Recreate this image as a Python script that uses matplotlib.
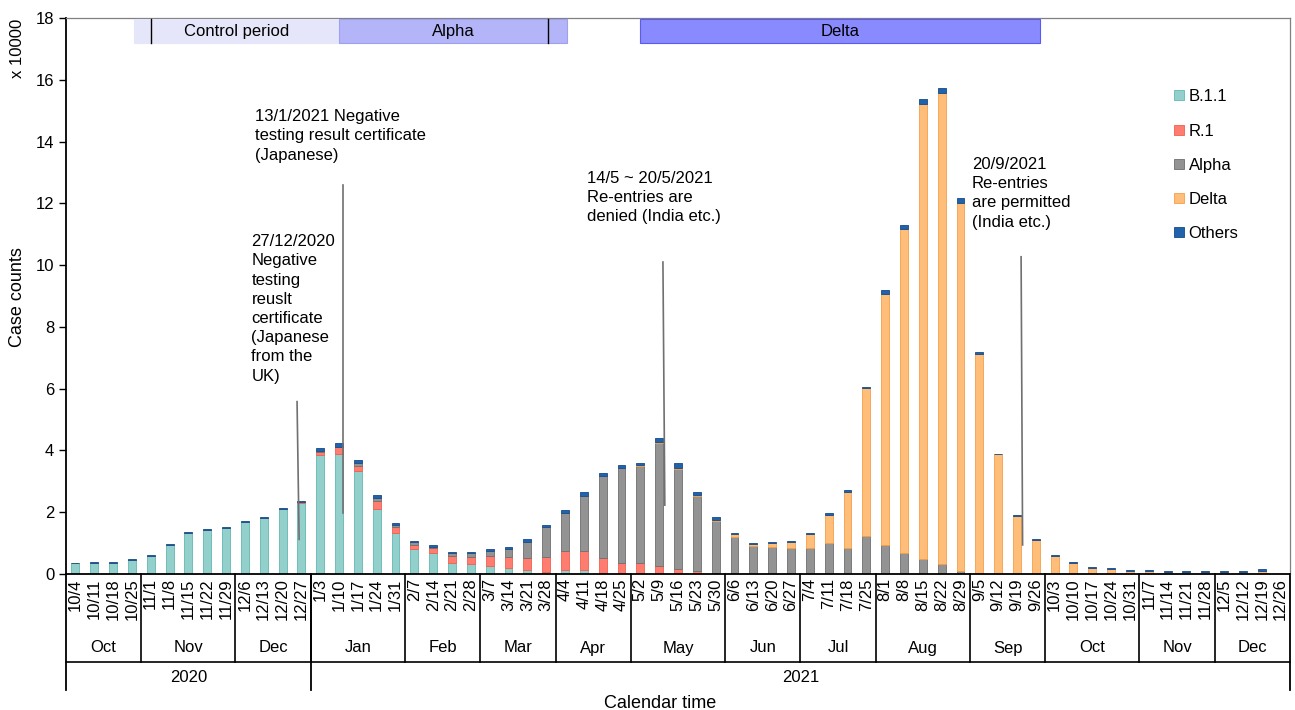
import numpy as np
import matplotlib
matplotlib.use('Agg')
import matplotlib.pyplot as plt
from matplotlib.patches import Rectangle

plt.rcParams['font.family'] = ['Liberation Sans', 'DejaVu Sans']

# weekly case counts (x 10000), stacked by lineage
weeks = ['10/4', '10/11', '10/18', '10/25',
         '11/1', '11/8', '11/15', '11/22', '11/29',
         '12/6', '12/13', '12/20', '12/27',
         '1/3', '1/10', '1/17', '1/24', '1/31',
         '2/7', '2/14', '2/21', '2/28',
         '3/7', '3/14', '3/21', '3/28',
         '4/4', '4/11', '4/18', '4/25',
         '5/2', '5/9', '5/16', '5/23', '5/30',
         '6/6', '6/13', '6/20', '6/27',
         '7/4', '7/11', '7/18', '7/25',
         '8/1', '8/8', '8/15', '8/22', '8/29',
         '9/5', '9/12', '9/19', '9/26',
         '10/3', '10/10', '10/17', '10/24', '10/31',
         '11/7', '11/14', '11/21', '11/28',
         '12/5', '12/12', '12/19', '12/26']

b11 = [0.34, 0.36, 0.37, 0.45,
       0.58, 0.93, 1.33, 1.42, 1.49,
       1.69, 1.80, 2.09, 2.29,
       3.85, 3.88, 3.34, 2.09, 1.34,
       0.82, 0.67, 0.37, 0.31,
       0.26, 0.20, 0.14, 0.05,
       0.12, 0.13, 0.03, 0.01,
       0, 0, 0, 0, 0,
       0, 0, 0, 0,
       0, 0, 0, 0,
       0, 0, 0, 0, 0,
       0, 0, 0, 0,
       0, 0, 0, 0, 0,
       0, 0, 0, 0,
       0, 0, 0, 0]
r1 = [0, 0, 0, 0,
      0, 0, 0, 0, 0.01,
      0, 0.02, 0.02, 0.03,
      0.11, 0.22, 0.17, 0.26, 0.19,
      0.12, 0.16, 0.21, 0.25,
      0.33, 0.34, 0.38, 0.50,
      0.63, 0.60, 0.50, 0.36,
      0.36, 0.27, 0.17, 0.10, 0.03,
      0, 0, 0, 0,
      0, 0, 0, 0,
      0, 0, 0, 0, 0,
      0, 0, 0, 0,
      0, 0, 0, 0, 0,
      0, 0, 0, 0,
      0, 0, 0, 0]
alpha = [0, 0, 0, 0,
         0, 0, 0, 0, 0,
         0, 0, 0, 0,
         0.02, 0.02, 0.08, 0.10, 0.06,
         0.09, 0.05, 0.09, 0.11,
         0.16, 0.27, 0.52, 0.97,
         1.24, 1.81, 2.64, 3.07,
         3.15, 3.96, 3.22, 2.42, 1.68,
         1.21, 0.90, 0.88, 0.84,
         0.83, 1.01, 0.83, 1.23,
         0.94, 0.68, 0.50, 0.31, 0.10,
         0.02, 0, 0, 0,
         0, 0, 0, 0, 0,
         0, 0, 0, 0,
         0, 0, 0, 0]
delta = [0, 0, 0, 0,
         0, 0, 0, 0, 0,
         0, 0, 0, 0,
         0, 0, 0, 0, 0,
         0, 0, 0, 0,
         0, 0, 0, 0,
         0, 0, 0, 0,
         0.01, 0.05, 0.05, 0.05, 0.05,
         0.07, 0.07, 0.12, 0.21,
         0.45, 0.91, 1.83, 4.78,
         8.12, 10.49, 14.71, 15.27, 11.90,
         7.10, 3.87, 1.88, 1.11,
         0.59, 0.37, 0.21, 0.16, 0.11,
         0.09, 0.07, 0.07, 0.07,
         0.07, 0.07, 0.10, 0]
others = [0.03, 0.03, 0.03, 0.04,
          0.04, 0.04, 0.04, 0.04, 0.03,
          0.04, 0.04, 0.04, 0.04,
          0.11, 0.11, 0.10, 0.10, 0.07,
          0.05, 0.05, 0.05, 0.03,
          0.05, 0.07, 0.08, 0.08,
          0.08, 0.10, 0.10, 0.08,
          0.08, 0.12, 0.15, 0.08, 0.08,
          0.04, 0.03, 0.03, 0.03,
          0.05, 0.05, 0.05, 0.06,
          0.13, 0.13, 0.18, 0.14, 0.16,
          0.07, 0.03, 0.03, 0.02,
          0.02, 0.02, 0.02, 0.03, 0.02,
          0.03, 0.02, 0.02, 0.02,
          0.02, 0.02, 0.06, 0]

months = ['Oct', 'Nov', 'Dec', 'Jan', 'Feb', 'Mar', 'Apr', 'May', 'Jun',
          'Jul', 'Aug', 'Sep', 'Oct', 'Nov', 'Dec']
month_weeks = [4, 5, 4, 5, 4, 4, 4, 5, 4, 4, 5, 4, 5, 4, 4]
years = ['2020', '2021']
year_weeks = [13, 52]

series = [('B.1.1', b11, '#93d0cc', '#5fb8b3'),
          ('R.1', r1, '#ff7d70', '#f0604f'),
          ('Alpha', alpha, '#939393', '#6e6e6e'),
          ('Delta', delta, '#ffbd7a', '#f5a04a'),
          ('Others', others, '#2063ab', '#144a8a')]

# period bands (week index start, end, label, colour) and annotations
periods = [(3.1, 14.0, 'Control period', '#e6e6fa', '#e6e6fa'),
           (14.0, 26.1, 'Alpha', '#b4b4f8', '#a0a0f0'),
           (30.0, 51.25, 'Delta', '#8a8aff', '#5a5af5')]
period_marks = [4.0, 25.1]
notes = [(9.55, 15.05, '13/1/2021 Negative\ntesting result certificate\n(Japanese)'),
         (9.35, 11.0, '27/12/2020\nNegative\ntesting\nreuslt\ncertificate\n(Japanese\nfrom the\nUK)'),
         (27.15, 13.05, '14/5 ~ 20/5/2021\nRe-entries are\ndenied (India etc.)'),
         (47.6, 13.5, '20/9/2021\nRe-entries\nare permitted\n(India etc.)')]
note_lines = [((11.77, 11.88), (5.58, 1.12)),
              ((14.23, 14.23), (12.59, 1.96)),
              ((31.2, 31.3), (10.1, 2.23)),
              ((50.22, 50.3), (10.27, 0.94))]

fig = plt.figure(figsize=(12.95, 7.10), dpi=100)
ax = fig.add_axes([66/1295, 1-574/710, 1224/1295, 556/710])

x = np.arange(len(weeks))
bottom = np.zeros(len(weeks))
handles = []
for name, vals, fc, ec in series:
    vals = np.array(vals)
    h = ax.bar(x, vals, width=0.42, bottom=bottom, color=fc, edgecolor=ec,
               linewidth=0.6, label=name)
    handles.append(h)
    bottom += vals

ax.set_xlim(-0.5, len(weeks) - 0.5)
ax.set_ylim(0, 18)
ax.set_yticks(np.arange(0, 19, 2))
ax.tick_params(axis='y', labelsize=12, length=5, width=1, direction='out')
ax.set_xticks(x)
ax.set_xticklabels(weeks, rotation=90, fontsize=12)
ax.tick_params(axis='x', length=0, pad=3)
for s in ['left', 'bottom']:
    ax.spines[s].set_color('black')
    ax.spines[s].set_linewidth(1.3)
for s in ['top', 'right']:
    ax.spines[s].set_color('#808080')
    ax.spines[s].set_linewidth(0.9)

# period bands at the top
for x0, x1, lab, fc, ec in periods:
    ax.add_patch(Rectangle((x0, 17.18), x1 - x0, 0.78, facecolor=fc,
                           edgecolor=ec, linewidth=0.8, zorder=3))
    ax.text((x0 + x1) / 2, 17.57, lab, ha='center', va='center',
            fontsize=12, zorder=4)
for m in period_marks:
    ax.plot([m, m], [17.18, 17.96], color='black', lw=1, zorder=4)

for tx, ty, txt in notes:
    ax.text(tx, ty, txt, ha='left', va='top', fontsize=12, linespacing=1.35)
for xs, ys in note_lines:
    ax.plot(xs, ys, color='#707070', lw=1.2, zorder=5)

# multi-level category axis below
tr = ax.get_xaxis_transform()
y_month = -88/556
y_year = -116/556
edges = np.cumsum([0] + month_weeks) - 0.5
for i, lab in enumerate(months):
    ax.text((edges[i] + edges[i+1]) / 2, -74/556, lab, transform=tr,
            ha='center', va='center', fontsize=12)
for e in edges[1:-1]:
    ax.plot([e, e], [0, y_month], transform=tr, color='black', lw=1.2,
            clip_on=False)
ax.plot([-0.5, len(weeks) - 0.5], [y_month, y_month], transform=tr,
        color='black', lw=1.2, clip_on=False)
yedges = np.cumsum([0] + year_weeks) - 0.5
for i, lab in enumerate(years):
    ax.text((yedges[i] + yedges[i+1]) / 2, -103/556, lab, transform=tr,
            ha='center', va='center', fontsize=12)
for e in yedges:
    ax.plot([e, e], [0, y_year], transform=tr, color='black', lw=1.3,
            clip_on=False)

fig.text(660/1295, 1-703/710, 'Calendar time', ha='center', va='center',
         fontsize=13)
fig.text(18/1295, 1-297/710, 'Case counts', ha='center', va='center',
         rotation=90, fontsize=13)
fig.text(18/1295, 1-48/710, 'x 10000', ha='center', va='center',
         rotation=90, fontsize=12)

fig.legend(handles=handles, loc='upper left',
           bbox_to_anchor=(1166/1295, 1-81/710), frameon=False,
           fontsize=12, handlelength=0.55, handleheight=0.55,
           handletextpad=0.3, labelspacing=1.15, borderpad=0)

fig.savefig('out.png', dpi=100)
